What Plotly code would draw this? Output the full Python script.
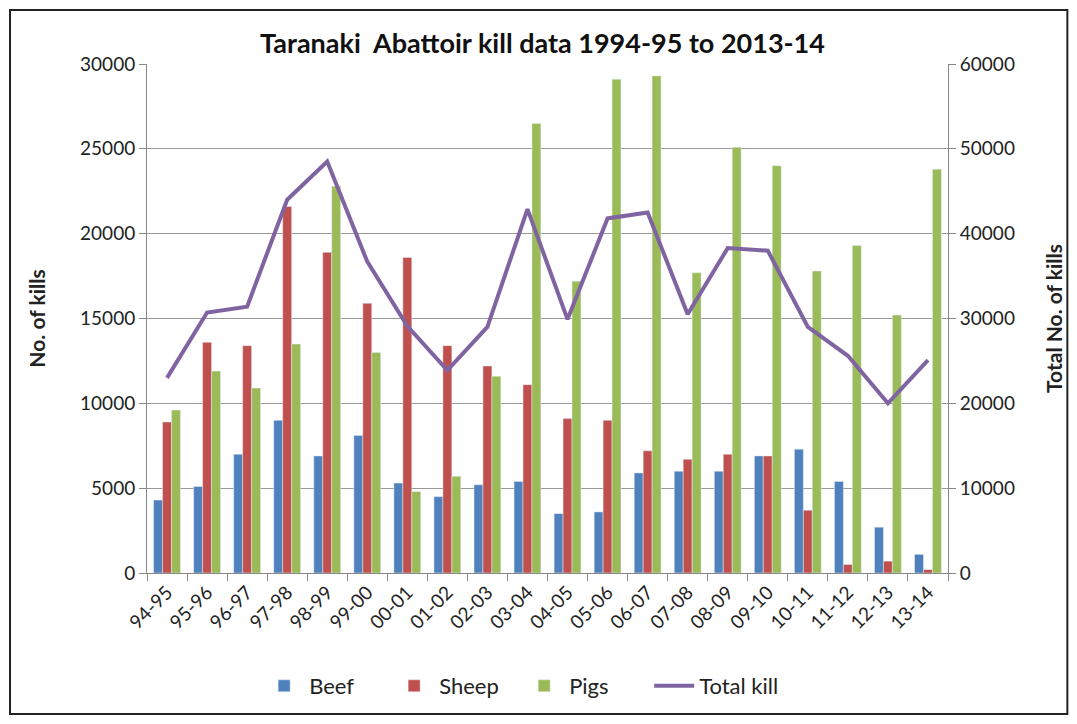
import plotly.graph_objects as go

seasons = ["94-95", "95-96", "96-97", "97-98", "98-99", "99-00", "00-01", "01-02", "02-03", "03-04",
           "04-05", "05-06", "06-07", "07-08", "08-09", "09-10", "10-11", "11-12", "12-13", "13-14"]
beef = [4300, 5100, 7000, 9000, 6900, 8100, 5300, 4500, 5200, 5400,
        3500, 3600, 5900, 6000, 6000, 6900, 7300, 5400, 2700, 1100]
sheep = [8900, 13600, 13400, 21600, 18900, 15900, 18600, 13400, 12200, 11100,
         9100, 9000, 7200, 6700, 7000, 6900, 3700, 500, 700, 200]
pigs = [9600, 11900, 10900, 13500, 22800, 13000, 4800, 5700, 11600, 26500,
        17200, 29100, 29300, 17700, 25100, 24000, 17800, 19300, 15200, 23800]
total_kill = [23000, 30700, 31400, 44000, 48500, 36700, 29100, 23900, 29000, 42900,
              29900, 41800, 42500, 30500, 38300, 38000, 29000, 25600, 20000, 25100]

font_family = "Lato, 'Open Sans', sans-serif"

fig = go.Figure()
fig.add_trace(go.Bar(x=seasons, y=beef, name="Beef", marker_color="#4F81BD"))
fig.add_trace(go.Bar(x=seasons, y=sheep, name="Sheep", marker_color="#C0504D"))
fig.add_trace(go.Bar(x=seasons, y=pigs, name="Pigs", marker_color="#9BBB59"))
fig.add_trace(go.Scatter(x=seasons, y=total_kill, name="Total kill", mode="lines",
                         line=dict(color="#8064A2", width=4), yaxis="y2"))

# page body adds an 8px offset, so the figure is sized/margined to compensate
fig.update_layout(
    width=1069, height=716,
    margin=dict(l=139, r=129, t=56, b=151, autoexpand=False),
    paper_bgcolor="white", plot_bgcolor="white",
    font=dict(family=font_family, size=18, color="#222"),
    title=dict(text="<b>Taranaki  Abattoir kill data 1994-95 to 2013-14</b>",
               x=0.5, xanchor="center", y=0.95, yanchor="middle",
               font=dict(size=27, color="#111")),
    barmode="group", bargap=0.33, bargroupgap=0,
    showlegend=True,
    legend=dict(orientation="h", x=0.14, xanchor="left", y=-0.222, yanchor="middle",
                font=dict(size=22), traceorder="normal", itemwidth=40,
                entrywidth=75, entrywidthmode="pixels"),
    xaxis=dict(type="category", tickangle=-45, ticks="outside", tickson="boundaries",
               ticklen=7, tickcolor="#888", showline=True, linecolor="#888",
               tickfont=dict(size=19), showgrid=False, automargin=False),
    yaxis=dict(range=[0, 30000], dtick=5000, tickformat="d", showgrid=True, gridcolor="#999",
               showline=True, linecolor="#888", ticks="outside", tickcolor="#888", ticklen=7,
               title=dict(text="<b>No. of kills</b>", font=dict(size=21), standoff=28),
               tickfont=dict(size=19), automargin=False),
    yaxis2=dict(range=[0, 60000], dtick=10000, tickformat="d", overlaying="y", side="right",
                showgrid=False, showline=True, linecolor="#888", ticks="outside",
                tickcolor="#888", ticklen=7,
                title=dict(text="<b>Total No. of kills</b>", font=dict(size=21), standoff=33),
                tickfont=dict(size=19), automargin=False),
)

fig.add_shape(type="rect", xref="paper", yref="paper",
              x0=-0.171, x1=1.149, y0=-0.277, y1=1.106,
              line=dict(color="#222", width=2), layer="below")

fig.write_html("out.html")
